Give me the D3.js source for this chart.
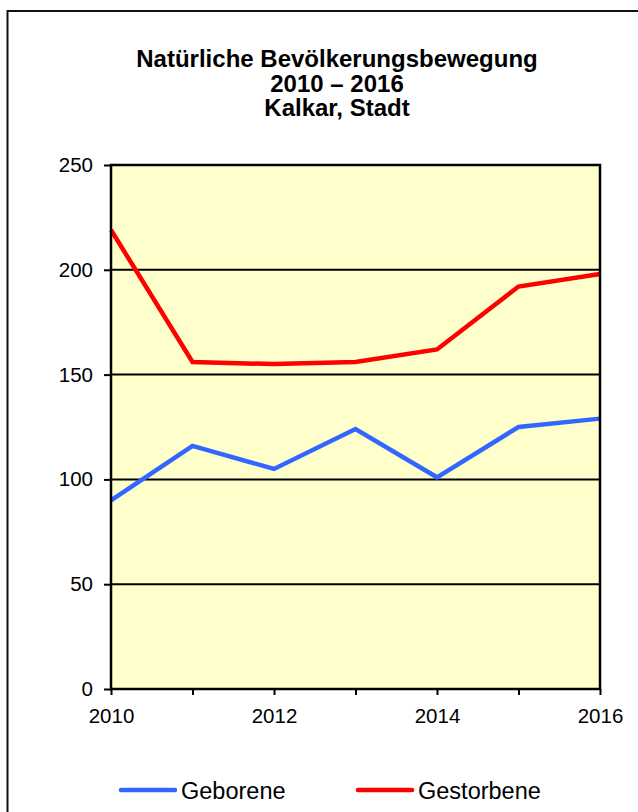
<!DOCTYPE html>
<html><head><meta charset="utf-8">
<script src="https://cdn.jsdelivr.net/npm/d3@7"></script>
<style>body{margin:0;background:#fff}svg{display:block}text{font-family:"Liberation Sans",Arial,sans-serif}</style>
</head><body><svg id="c" width="638" height="812"></svg>
<script>
const years = [2010, 2011, 2012, 2013, 2014, 2015, 2016];
const geborene = [90, 116, 105, 124, 101, 125, 129];
const gestorbene = [219, 156, 155, 156, 162, 192, 198];
const yTicks = [0, 50, 100, 150, 200, 250];
const xTickLabels = [2010, 2012, 2014, 2016];
const titleLines = ["Natürliche Bevölkerungsbewegung", "2010 – 2016", "Kalkar, Stadt"];
const seriesNames = ["Geborene", "Gestorbene"];
const seriesColors = ["#3366FF", "#FF0000"];

const svg = d3.select("#c");
svg.append("rect").attr("x", 7.5).attr("y", 11).attr("width", 640).attr("height", 820)
  .attr("fill", "none").attr("stroke", "#111").attr("stroke-width", 2);

const L = 111, R = 600, T = 165, B = 689;
const x = d3.scaleLinear().domain([2010, 2016]).range([L, R]);
const y = d3.scaleLinear().domain([0, 250]).range([B, T]);

svg.append("rect").attr("x", L).attr("y", T).attr("width", R - L).attr("height", B - T).attr("fill", "#FFFFCC");

// gridlines
svg.append("g").selectAll("line").data(yTicks.filter(d => d > 0 && d < 250)).join("line")
  .attr("x1", L).attr("x2", R).attr("y1", d => y(d)).attr("y2", d => y(d))
  .attr("stroke", "#000").attr("stroke-width", 2);

// title
svg.append("text").attr("x", 337).attr("y", 67).attr("text-anchor", "middle")
  .attr("font-weight", "bold").attr("font-size", 24).attr("fill", "#000")
  .selectAll("tspan").data(titleLines).join("tspan")
  .attr("x", 337).attr("dy", (d, i) => i === 0 ? 0 : 24.5).text(d => d);

// series
const line = d3.line().x((d, i) => x(years[i])).y(d => y(d));
[geborene, gestorbene].forEach((s, k) => {
  svg.append("path").datum(s).attr("d", line).attr("fill", "none")
    .attr("stroke", seriesColors[k]).attr("stroke-width", 4.5).attr("stroke-linejoin", "miter");
});

// plot frame
svg.append("rect").attr("x", L).attr("y", T).attr("width", R - L).attr("height", B - T)
  .attr("fill", "none").attr("stroke", "#000").attr("stroke-width", 2.5);

// y axis
const ya = svg.append("g").attr("transform", `translate(${L},0)`)
  .call(d3.axisLeft(y).tickValues(yTicks).tickSize(7).tickPadding(11).tickFormat(d3.format("d")));
ya.select(".domain").remove();
ya.selectAll("line").attr("stroke", "#000").attr("stroke-width", 2);
ya.selectAll("text").attr("font-size", 20.5).attr("fill", "#000").attr("font-family", "Liberation Sans, Arial, sans-serif");

// x axis
const xa = svg.append("g").attr("transform", `translate(0,${B})`)
  .call(d3.axisBottom(x).tickValues(years).tickSize(6).tickPadding(13)
    .tickFormat(d => xTickLabels.includes(d) ? String(d) : ""));
xa.select(".domain").remove();
xa.selectAll("line").attr("stroke", "#000").attr("stroke-width", 2);
xa.selectAll("text").attr("font-size", 20.5).attr("fill", "#000").attr("font-family", "Liberation Sans, Arial, sans-serif");

// legend
const legX = [121, 358];
seriesNames.forEach((n, k) => {
  svg.append("line").attr("x1", legX[k]).attr("x2", legX[k] + 54).attr("y1", 790).attr("y2", 790)
    .attr("stroke", seriesColors[k]).attr("stroke-width", 4.5).attr("stroke-linecap", "round");
  svg.append("text").attr("x", legX[k] + 60).attr("y", 799).attr("font-size", 23.5).attr("fill", "#000").text(n);
});
</script></body></html>
